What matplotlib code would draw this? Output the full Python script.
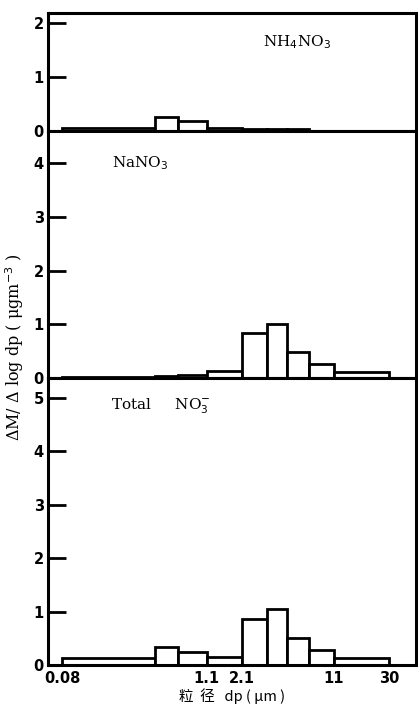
import numpy as np
import matplotlib
matplotlib.use('Agg')
import matplotlib.pyplot as plt

# Impactor stage boundaries (um) and dM/dlogDp per stage
edges = [0.08, 0.43, 0.65, 1.1, 2.1, 3.3, 4.7, 7.0, 11, 30]
nh4no3 = [0.05, 0.25, 0.18, 0.06, 0.04, 0.04, 0.03, 0.0, 0.0]
nano3 = [0.01, 0.03, 0.06, 0.13, 0.84, 1.0, 0.49, 0.26, 0.11]
total_no3 = [0.13, 0.34, 0.25, 0.15, 0.86, 1.05, 0.50, 0.28, 0.13]

xtick_vals = [0.08, 1.1, 2.1, 11, 30]
xtick_labels = ['0.08', '1.1', '2.1', '11', '30']

panels = [
    # values, ylim top, yticks, label, label pos (axes frac)
    (nh4no3, 2.18, [0, 1, 2], r'NH$_4$NO$_3$', (0.585, 0.75)),
    (nano3, 4.6, [0, 1, 2, 3, 4], r'NaNO$_3$', (0.175, 0.87)),
    (total_no3, 5.37, [0, 1, 2, 3, 4, 5], r'Total     NO$_3^{-}$', (0.17, 0.90)),
]
boxes = [
    [0.115, 0.8155, 0.88, 0.1662],
    [0.115, 0.4676, 0.88, 0.3479],
    [0.115, 0.0634, 0.88, 0.4042],
]

fig = plt.figure(figsize=(4.18, 7.10), dpi=100)

left = np.array(edges[:-1])
width = np.diff(edges)

for i, ((vals, ytop, yt, label, pos), box) in enumerate(zip(panels, boxes)):
    ax = fig.add_axes(box)
    ax.bar(left, vals, width=width, align='edge', facecolor='white',
           edgecolor='black', linewidth=2.0)
    ax.set_xscale('log')
    ax.set_xlim(0.062, 49)
    ax.set_ylim(0, ytop)
    ax.set_yticks(yt)
    ax.set_yticklabels([str(v) for v in yt], fontweight='bold', fontsize=10.5)
    ax.tick_params(axis='y', direction='in', length=13, width=2, pad=3)
    ax.minorticks_off()
    for s in ax.spines.values():
        s.set_linewidth(2.2)
    ax.text(pos[0], pos[1], label, transform=ax.transAxes,
            fontsize=11, family='serif', ha='left', va='center')
    if i < 2:
        ax.set_xticks([])
    else:
        ax.set_xticks(xtick_vals)
        ax.set_xticklabels(xtick_labels, fontweight='bold', fontsize=10.5)
        ax.tick_params(axis='x', length=0, pad=4)
        ax.set_xlabel('粒  径   dp ( μm )', fontsize=10.5,
                      family=['Noto Sans CJK SC', 'DejaVu Sans'], labelpad=2)

fig.text(0.036, 0.511, r'ΔM/ Δ log dp ( μgm$^{-3}$ )', rotation=90,
         ha='center', va='center', fontsize=11.5, family='serif')

fig.savefig('out.png', dpi=100)
